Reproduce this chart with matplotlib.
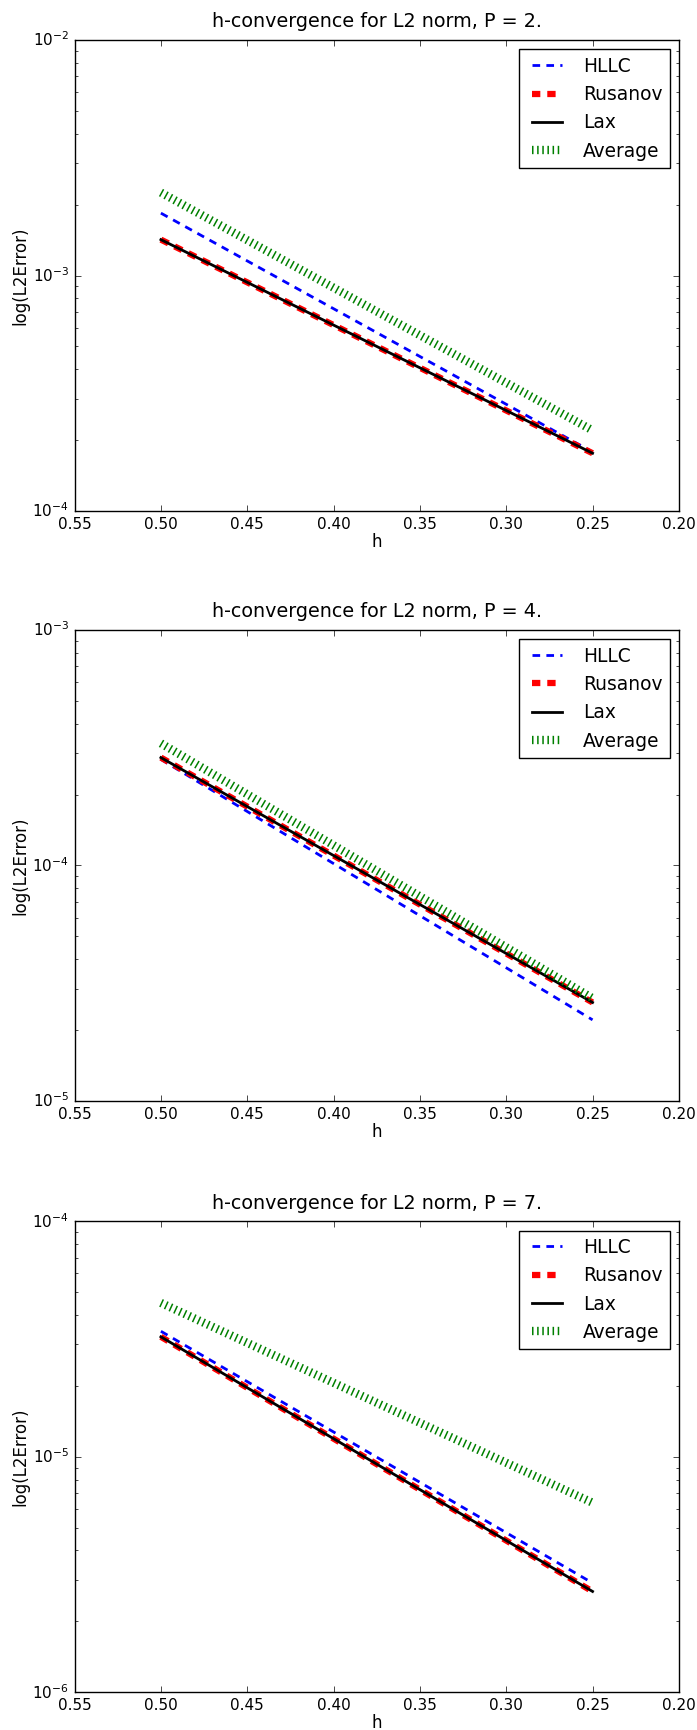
import numpy as np
import matplotlib
matplotlib.use("Agg")
import matplotlib.pyplot as plt

plt.style.use('classic')

# mesh sizes
h = [0.5, 0.25]

# L2 errors per polynomial order
P = [2, 4, 7]
hllc = [[1.84e-3, 1.78e-4], [2.82e-4, 2.21e-5], [3.41e-5, 2.91e-6]]
rusanov = [[1.42e-3, 1.76e-4], [2.87e-4, 2.62e-5], [3.23e-5, 2.68e-6]]
lax = [[1.42e-3, 1.76e-4], [2.87e-4, 2.62e-5], [3.23e-5, 2.68e-6]]
average = [[2.25e-3, 2.2e-4], [3.3e-4, 2.73e-5], [4.5e-5, 6.38e-6]]
ylims = [(1e-4, 1e-2), (1e-5, 1e-3), (1e-6, 1e-4)]
xticks = [0.55, 0.50, 0.45, 0.40, 0.35, 0.30, 0.25, 0.20]

fig = plt.figure(figsize=(6.97, 17.30), dpi=100, facecolor='white')
bottoms = [0.7046, 0.3636, 0.0218]

for i in range(3):
    ax = fig.add_axes([0.107, bottoms[i], 0.867, 0.2723])
    ax.plot(h, hllc[i], color='b', lw=2, dashes=(5.5, 4.5), label='HLLC')
    ax.plot(h, rusanov[i], color='r', lw=4.5, dashes=(6, 5), label='Rusanov')
    ax.plot(h, lax[i], color='k', lw=2, label='Lax')
    ax.plot(h, average[i], color='g', lw=6, dashes=(1.1, 2.6), label='Average')
    ax.set_yscale('log')
    ax.set_ylim(ylims[i])
    ax.set_xlim(0.55, 0.20)
    ax.set_xticks(xticks)
    ax.set_xticklabels(["%.2f" % x for x in xticks])
    ax.tick_params(labelsize=11)
    ax.set_xlabel('h', fontsize=12, labelpad=1)
    ax.set_ylabel('log(L2Error)', fontsize=12, labelpad=2)
    ax.set_title('h-convergence for L2 norm, P = %d.' % P[i], fontsize=13.8, pad=9)
    ax.legend(loc='upper right', fontsize=13.4, handlelength=2.2)

fig.savefig('out.png', dpi=100, facecolor='white')
